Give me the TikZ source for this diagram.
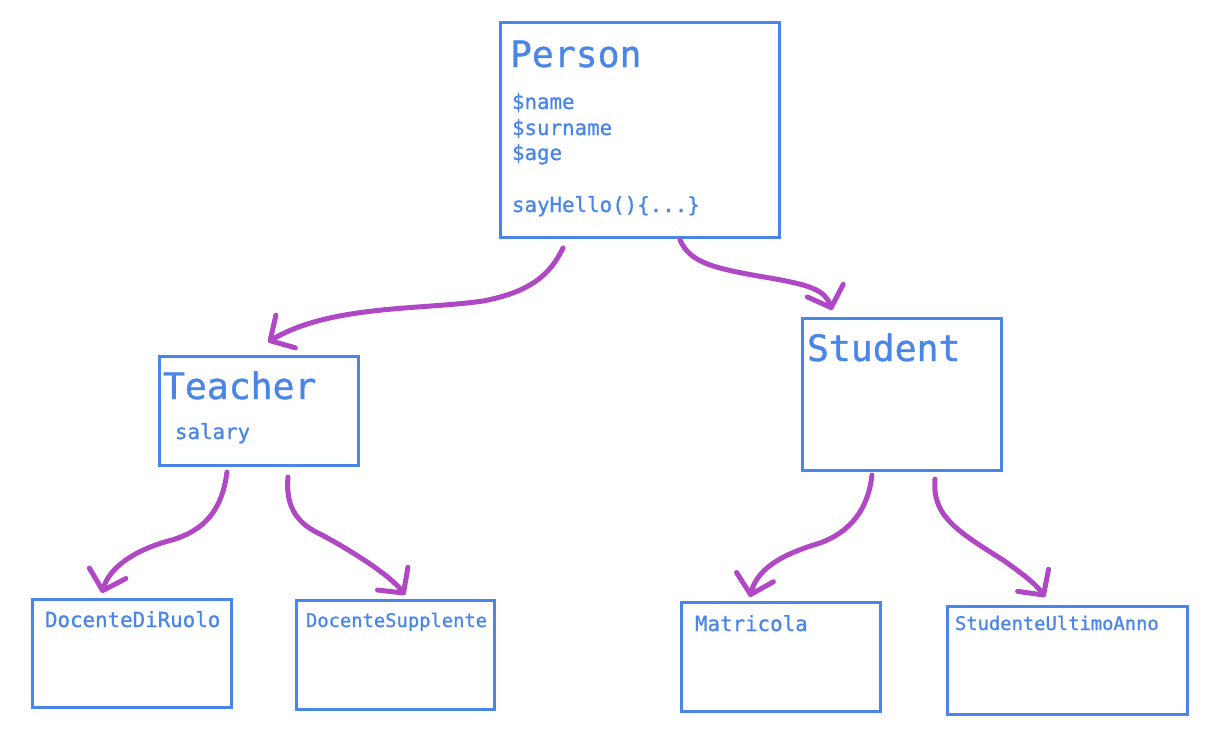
\documentclass[tikz,border=0pt]{standalone}
\usepackage{fontspec}
\setmonofont{DejaVu Sans Mono}[BoldFont={DejaVu Sans Mono},BoldFeatures={FakeBold=1.0}]
\usetikzlibrary{arrows.meta}
\definecolor{boxblue}{HTML}{4A86E8}
\definecolor{arrpurple}{RGB}{176,72,198}
\tikzset{
  box/.style={draw=boxblue, line width=1.5pt, rectangle, anchor=north west, inner sep=0pt, outer sep=0pt},
  lbl/.style={text=boxblue, anchor=base west, inner sep=0pt, outer sep=0pt},
  big/.style={lbl, font=\ttfamily\bfseries\fontsize{18.2}{20}\selectfont},
  small/.style={lbl, font=\ttfamily\bfseries\fontsize{10.4}{12}\selectfont},
  tiny/.style={lbl, font=\ttfamily\bfseries\fontsize{9.4}{11}\selectfont},
  arr/.style={draw=arrpurple, line width=2.5pt, line cap=round, line join=round,
    -{Straight Barb[length=9pt,width=19pt,round]}}
}
\begin{document}
\begin{tikzpicture}[x=0.5pt,y=-0.5pt]
\useasboundingbox (0,0) rectangle (1209,744);
% boxes
\node[box, minimum width=139.5pt, minimum height=107.5pt] (person) at (500,22) {};
\node[box, minimum width=99.5pt, minimum height=54.5pt] (teacher) at (159,356) {};
\node[box, minimum width=99.5pt, minimum height=76pt] (student) at (802,318) {};
\node[box, minimum width=99.5pt, minimum height=54pt] (ddr) at (32,599) {};
\node[box, minimum width=99pt, minimum height=54.5pt] (ds) at (296,600) {};
\node[box, minimum width=99.5pt, minimum height=54.5pt] (mat) at (681,602) {};
\node[box, minimum width=120pt, minimum height=54pt] (sua) at (947,606) {};
% texts
\node[big] (tperson) at (510,67) {Person};
\node[small] (tname) at (512,109) {\$name};
\node[small] (tsurname) at (512,135) {\$surname};
\node[small] (tage) at (512,160) {\$age};
\node[small] (thello) at (512,212) {sayHello()\{...\}};
\node[big] (tteacher) at (163,399) {Teacher};
\node[small] (tsalary) at (175,439) {salary};
\node[big] (tstudent) at (807,361) {Student};
\node[small] (tddr) at (45,627) {DocenteDiRuolo};
\node[tiny] (tds) at (306,627) {DocenteSupplente};
\node[small] (tmat) at (695,631) {Matricola};
\node[tiny] (tsua) at (955,630) {StudenteUltimoAnno};
% connectors
\draw[arr] ([shift={(63,11)}]person.south west) .. controls (550,275) and (530,292) .. (483,301)
  .. controls (420,310) and (330,305) .. ([shift={(109,-14)}]teacher.north west);
\draw[arr] ([shift={(180,3)}]person.south west) .. controls (690,262) and (710,268) .. (770,278)
  .. controls (810,285) and (825,290) .. ([shift={(30,-8)}]student.north west);
\draw[arr] ([shift={(68,7)}]teacher.south west) .. controls (222,510) and (205,530) .. (172,540)
  .. controls (140,548) and (110,565) .. ([shift={(70,-6)}]ddr.north west);
\draw[arr] ([shift={(129,12)}]teacher.south west) .. controls (285,510) and (300,525) .. (322,535)
  .. controls (350,550) and (390,575) .. ([shift={(109,-5)}]ds.north west);
\draw[arr] ([shift={(70,5)}]student.south west) .. controls (868,510) and (850,532) .. (820,543)
  .. controls (790,552) and (758,565) .. ([shift={(69,-5)}]mat.north west);
\draw[arr] ([shift={(133,9)}]student.south west) .. controls (932,515) and (955,530) .. (1003,560)
  .. controls (1020,572) and (1035,583) .. ([shift={(98,-9)}]sua.north west);
\end{tikzpicture}
\end{document}
